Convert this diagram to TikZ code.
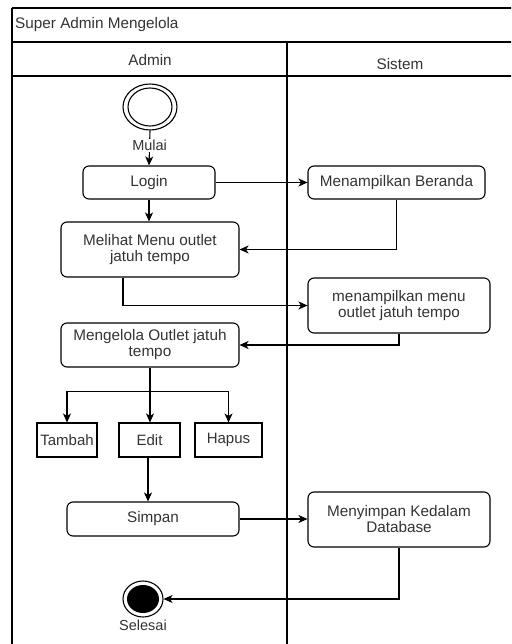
\documentclass[tikz,border=0pt]{standalone}
\usepackage{fontspec}
\setmainfont{Liberation Sans}
\usetikzlibrary{arrows.meta,shapes.geometric}
\definecolor{txt}{HTML}{333333}
\tikzset{
  act/.style={draw=black, line width=1.1pt, rounded corners=6pt, text=txt, align=center, inner sep=0pt,
    font=\fontsize{15.3}{16}\selectfont},
  opbox/.style={draw=black, line width=1.1pt, text=txt, align=center, inner sep=0pt,
    font=\fontsize{15}{16}\selectfont},
  flow/.style={line width=1.1pt, -{Stealth[length=9pt,width=8pt,inset=2.5pt]}},
  lbl/.style={text=txt, font=\fontsize{14.5}{16}\selectfont, inner sep=1pt},
  frame/.style={line width=1.2pt, draw=black}
}
\begin{document}
\begin{tikzpicture}[x=1pt,y=-1pt]
\useasboundingbox (0,0) rectangle (511,644);
\begin{scope}
\clip (0,0) rectangle (511,644);
\draw[frame] (12,8) -- (530,8);
\draw[frame] (12,8) -- (12,660);
\draw[frame] (12,42) -- (530,42);
\draw[frame] (12,76) -- (530,76);
\draw[frame] (287,42) -- (287,660);
\end{scope}
\node[lbl, anchor=west, font=\fontsize{15.3}{16}\selectfont] (title) at (14,25) {Super Admin Mengelola};
\node[lbl, font=\fontsize{15.3}{16}\selectfont] (hadmin) at (150,60) {Admin};
\node[lbl, font=\fontsize{15.3}{16}\selectfont] (hsistem) at (400,64) {Sistem};

% start
\node[ellipse, draw, line width=1.1pt, minimum width=54pt, minimum height=46pt, inner sep=0pt] (start) at (150,107) {};
\node[ellipse, draw, line width=1.1pt, minimum width=44pt, minimum height=38pt, inner sep=0pt] (startin) at (150,107) {};

% activities
\node[act, minimum width=132pt, minimum height=33pt] (login) at (149,182.5) {Login};
\node[act, minimum width=177pt, minimum height=33pt] (beranda) at (396.5,182.5) {Menampilkan Beranda};
\node[act, minimum width=178pt, minimum height=55pt] (melihat) at (150,249.5) {Melihat Menu outlet\\jatuh tempo};
\node[act, minimum width=182pt, minimum height=55pt] (menu) at (399,305.5) {menampilkan menu\\outlet jatuh tempo};
\node[act, minimum width=178pt, minimum height=44pt] (kelola) at (150,345) {Mengelola Outlet jatuh\\tempo};
\node[opbox, minimum width=60pt, minimum height=34pt] (tambah) at (67,440) {Tambah};
\node[opbox, minimum width=61pt, minimum height=34pt] (edit) at (149.5,440) {Edit};
\node[opbox, minimum width=67pt, minimum height=34pt] (hapus) at (228.5,440) {Hapus};
\node[act, minimum width=172pt, minimum height=34pt] (simpan) at (153,519) {Simpan};
\node[act, minimum width=182pt, minimum height=55pt] (db) at (399,519.5) {Menyimpan Kedalam\\Database};

% end
\node[ellipse, draw, line width=1.1pt, minimum width=40pt, minimum height=36pt, inner sep=0pt] (end) at (143,599) {};
\node[ellipse, fill=black, minimum width=32pt, minimum height=28pt, inner sep=0pt] (endin) at (143,599) {};
\node[lbl] (selesai) at (143,625) {Selesai};

% connectors
\draw[flow] (start.south) -- node[lbl, fill=white, pos=0.42] (mulai) {Mulai} (login.north);
\draw[flow] (login.east) -- (beranda.west);
\draw[flow] (login.south) -- (login.south |- melihat.north);
\draw[flow] (beranda.south) |- (melihat.east);
\coordinate (m1) at ([xshift=-27pt]melihat.south);
\draw[flow] (m1) |- (menu.west);
\draw[flow] (menu.south) |- (kelola.east);
\draw[flow] (kelola.south) -- (kelola.south |- edit.north);
\coordinate (br) at ([yshift=-24pt]kelola.south);
\draw[flow] (br) -| (tambah.north);
\draw[flow] (br) -| (hapus.north);
\coordinate (e1) at ([xshift=-1.5pt]edit.south);
\draw[flow] (e1) -- (e1 |- simpan.north);
\draw[flow] (simpan.east) -- (simpan.east -| db.west);
\draw[flow] (db.south) |- (end.east);
\end{tikzpicture}
\end{document}
